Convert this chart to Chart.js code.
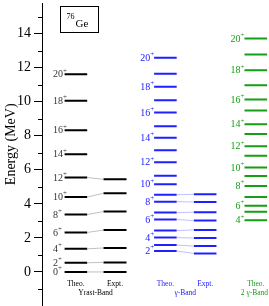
<!DOCTYPE html>
<html>
<head>
<meta charset="UTF-8">
<title>76Ge levels</title>
<script src="https://cdn.jsdelivr.net/npm/chart.js"></script>
<style>
  body { margin: 0; background: #fff; }
  #wrap { width: 269px; height: 306px; }
</style>
</head>
<body>
<div id="wrap"><canvas id="levels"></canvas></div>
<script>
// energies in MeV
const yrastSpins = [0, 2, 4, 6, 8, 10, 12, 14, 16, 18, 20];
const yrastTheo = [0, 0.54, 1.36, 2.32, 3.37, 4.40, 5.55, 6.92, 8.32, 10.06, 11.61];
const yrastExpt = [0, 0.56, 1.41, 2.46, 3.55, 4.62, 5.44];

const gammaSpins = [2, 3, 4, 5, 6, 7, 8, 9, 10, 11, 12, 13, 14, 15, 16, 17, 18, 19, 20];
const gammaTheo = [1.23, 1.58, 2.02, 2.43, 3.08, 3.49, 4.13, 4.54, 5.15, 5.65, 6.45, 7.15, 7.89, 8.56, 9.36, 10.08, 10.88, 11.65, 12.59];
const gammaExpt = [1.09, 1.52, 1.99, 2.47, 3.02, 3.51, 4.11, 4.56];

const twoGammaSpins = [4, 5, 6, 7, 8, 9, 10, 11, 12, 13, 14, 15, 16, 17, 18, 19, 20];
const twoGammaTheo = [3.04, 3.53, 3.89, 4.40, 5.05, 5.63, 6.14, 6.82, 7.39, 8.11, 8.67, 9.49, 10.13, 10.97, 11.85, 12.78, 13.72];

const energyTicks = [0, 2, 4, 6, 8, 10, 12, 14];
const columnNames = ['Theo.', 'Expt.', 'Theo.', 'Expt.', 'Theo.'];
const bandNames = ['Yrast-Band', '\u03b3-Band', '2 \u03b3-Band'];

const BLACK = '#000000';
const BLUE = '#2020ff';
const GREEN = '#169e16';
const SERIF = '"Liberation Serif", "DejaVu Serif", serif';

// column x ranges on a 0..10 axis
const cols = {
  yTheo: [1.0, 2.0], yExpt: [2.72, 3.74],
  gTheo: [4.96, 5.96], gExpt: [6.72, 7.72],
  ggTheo: [8.96, 9.96]
};

function levels(energies, c) {
  const pts = [];
  energies.forEach(e => {
    pts.push({ x: c[0], y: e }, { x: c[1], y: e }, { x: c[1], y: null });
  });
  return pts;
}

function links(theo, expt, a, b) {
  const pts = [];
  expt.forEach((e, i) => {
    pts.push({ x: a[1], y: theo[i] }, { x: b[0], y: e }, { x: b[0], y: null });
  });
  return pts;
}

function ds(data, color, width) {
  return {
    data: data, borderColor: color, borderWidth: width,
    pointRadius: 0, spanGaps: false, borderCapStyle: 'butt', tension: 0
  };
}

function spinLabel(ctx, spin, x, y, align, color) {
  ctx.fillStyle = color;
  ctx.font = '10px ' + SERIF;
  const txt = String(spin);
  const w = ctx.measureText(txt).width;
  ctx.font = '7px ' + SERIF;
  const p = ctx.measureText('+').width;
  const start = align === 'left' ? x : x - w - p;
  ctx.font = '10px ' + SERIF;
  ctx.textAlign = 'left';
  ctx.textBaseline = 'middle';
  ctx.fillText(txt, start, y + 0.5);
  ctx.font = '7px ' + SERIF;
  ctx.fillText('+', start + w, y - 3.5);
}

const extras = {
  id: 'extras',
  afterDatasetsDraw(chart) {
    const ctx = chart.ctx;
    const xs = chart.scales.x, ys = chart.scales.y;
    ctx.save();

    // minor ticks
    ctx.strokeStyle = BLACK;
    ctx.lineWidth = 1;
    const ax = chart.chartArea.left;
    for (let v = -1; v <= 15; v += 2) {
      const py = Math.round(ys.getPixelForValue(v)) + 0.5;
      ctx.beginPath();
      ctx.moveTo(ax - 4, py);
      ctx.lineTo(ax, py);
      ctx.stroke();
    }

    // axis title
    ctx.save();
    ctx.translate(11, ys.getPixelForValue(7.5));
    ctx.rotate(-Math.PI / 2);
    ctx.font = '14px ' + SERIF;
    ctx.fillStyle = BLACK;
    ctx.textAlign = 'center';
    ctx.textBaseline = 'middle';
    ctx.fillText('Energy (MeV)', 0, 0);
    ctx.restore();

    // nucleus box
    const bx0 = Math.round(xs.getPixelForValue(0.8)) + 0.5;
    const bx1 = Math.round(xs.getPixelForValue(2.48)) + 0.5;
    const by0 = Math.round(ys.getPixelForValue(15.6)) + 0.5;
    const by1 = Math.round(ys.getPixelForValue(14.1)) + 0.5;
    ctx.strokeRect(bx0, by0, bx1 - bx0, by1 - by0);
    ctx.fillStyle = BLACK;
    ctx.textBaseline = 'alphabetic';
    ctx.textAlign = 'left';
    ctx.font = '8px ' + SERIF;
    ctx.fillText('76', bx0 + 6, by0 + 12);
    ctx.font = '11px ' + SERIF;
    ctx.fillText('Ge', bx0 + 15, by0 + 20);

    // spin labels
    yrastSpins.forEach((s, i) => {
      spinLabel(ctx, s, xs.getPixelForValue(cols.yTheo[0]) - 11.5, ys.getPixelForValue(yrastTheo[i]), 'left', '#333333');
    });
    gammaSpins.forEach((s, i) => {
      if (s % 2 === 0) {
        spinLabel(ctx, s, xs.getPixelForValue(cols.gTheo[0]), ys.getPixelForValue(gammaTheo[i]), 'right', BLUE);
      }
    });
    twoGammaSpins.forEach((s, i) => {
      if (s % 2 === 0) {
        spinLabel(ctx, s, xs.getPixelForValue(cols.ggTheo[0]), ys.getPixelForValue(twoGammaTheo[i]), 'right', GREEN);
      }
    });

    // column and band names
    const colKeys = ['yTheo', 'yExpt', 'gTheo', 'gExpt', 'ggTheo'];
    const colColors = [BLACK, BLACK, BLUE, BLUE, GREEN];
    ctx.font = '7.5px ' + SERIF;
    ctx.textAlign = 'center';
    ctx.textBaseline = 'middle';
    colKeys.forEach((k, i) => {
      const c = cols[k];
      ctx.fillStyle = colColors[i];
      ctx.fillText(columnNames[i], xs.getPixelForValue((c[0] + c[1]) / 2), ys.getPixelForValue(-0.7));
    });
    const bandX = [(cols.yTheo[0] + cols.yExpt[1]) / 2, (cols.gTheo[0] + cols.gExpt[1]) / 2, 9.4];
    const bandColors = [BLACK, BLUE, GREEN];
    bandNames.forEach((n, i) => {
      ctx.fillStyle = bandColors[i];
      ctx.fillText(n, xs.getPixelForValue(bandX[i]), ys.getPixelForValue(-1.24));
    });

    ctx.restore();
  }
};

new Chart(document.getElementById('levels'), {
  type: 'line',
  data: {
    datasets: [
      ds(links(yrastTheo, yrastExpt, cols.yTheo, cols.yExpt), '#b0b0b0', 0.8),
      ds(links(gammaTheo, gammaExpt, cols.gTheo, cols.gExpt), '#b0b0ff', 0.8),
      ds(levels(yrastTheo, cols.yTheo), BLACK, 2),
      ds(levels(yrastExpt, cols.yExpt), BLACK, 2),
      ds(levels(gammaTheo, cols.gTheo), BLUE, 2),
      ds(levels(gammaExpt, cols.gExpt), BLUE, 2),
      ds(levels(twoGammaTheo, cols.ggTheo), GREEN, 2)
    ]
  },
  options: {
    responsive: true,
    maintainAspectRatio: false,
    animation: false,
    layout: { padding: { top: 3, right: 1, bottom: 0, left: 0 } },
    plugins: { legend: { display: false }, tooltip: { enabled: false } },
    scales: {
      x: { type: 'linear', display: false, min: 0, max: 10 },
      y: {
        type: 'linear',
        min: -2,
        max: 15.8,
        afterFit(s) { s.width = 42; s.paddingTop = 0; s.paddingBottom = 0; },
        ticks: {
          stepSize: 1,
          includeBounds: false,
          padding: 3,
          color: BLACK,
          font: { family: SERIF, size: 14 },
          callback: v => energyTicks.includes(v) ? String(v) : null
        },
        grid: { drawOnChartArea: false, tickLength: 8, color: BLACK },
        border: { color: BLACK, width: 1 }
      }
    }
  },
  plugins: [extras]
});
</script>
</body>
</html>
